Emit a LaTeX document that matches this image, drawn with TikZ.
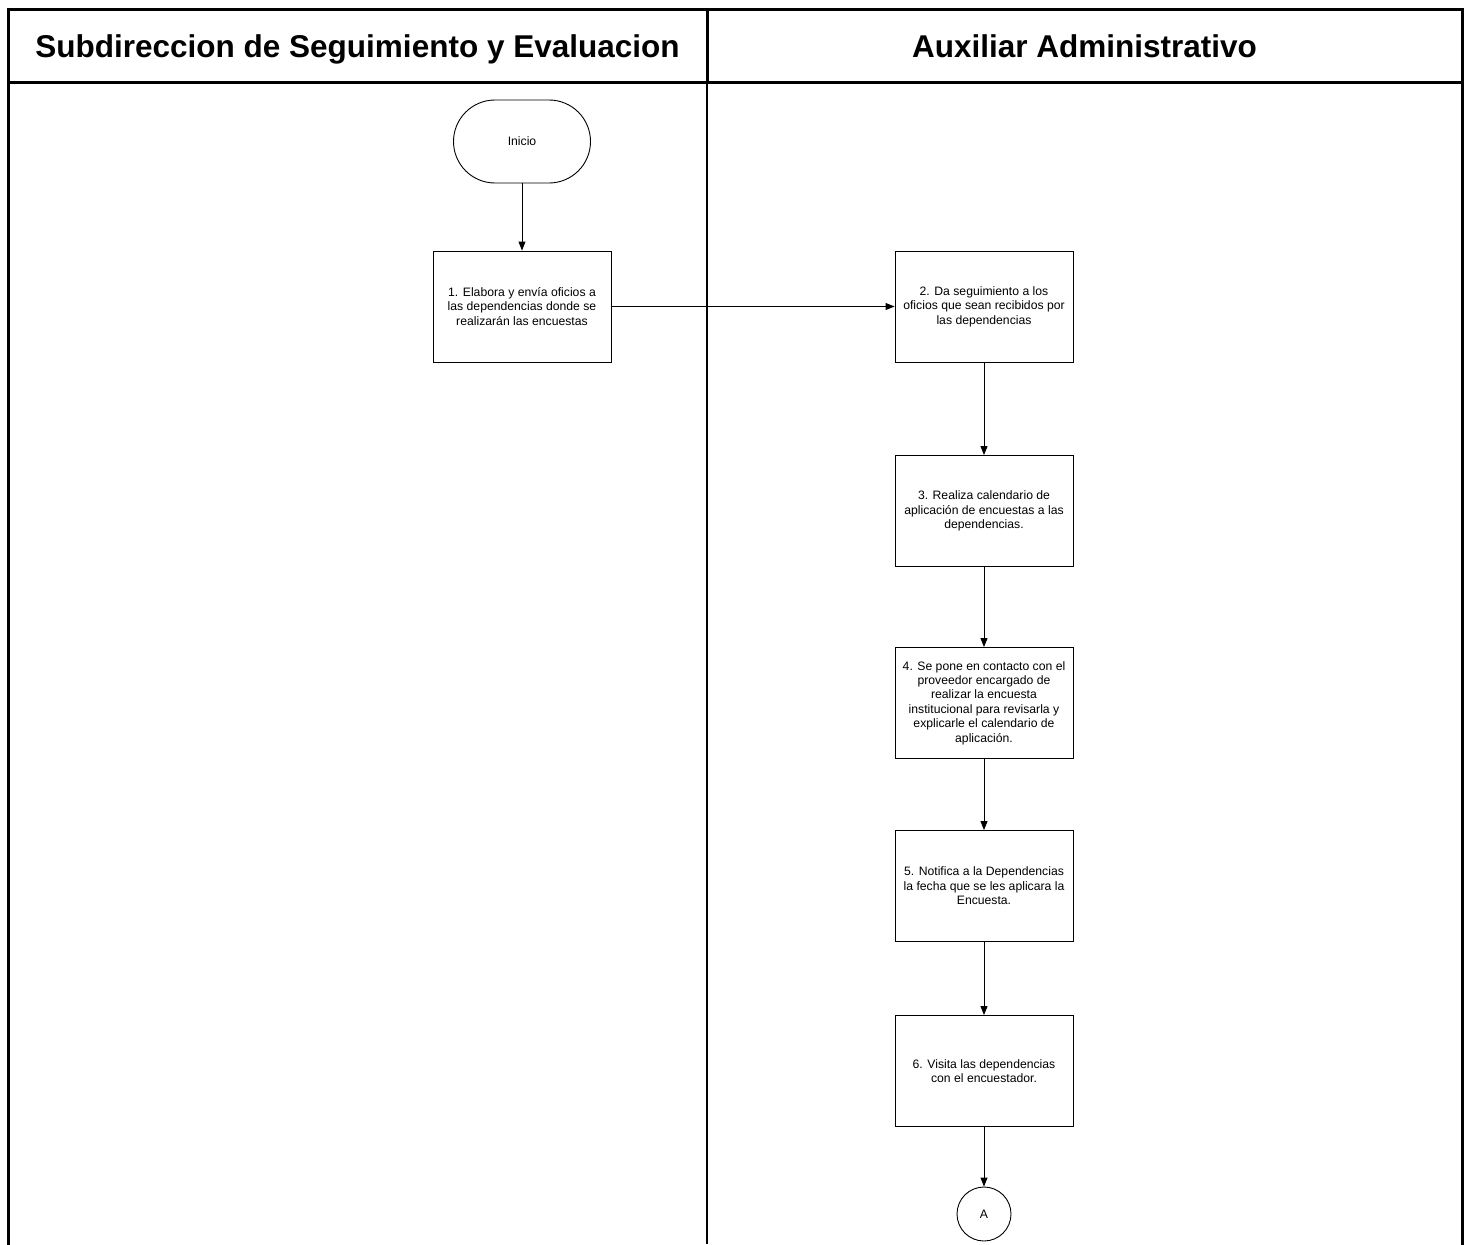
\documentclass[tikz,border=0pt]{standalone}
\usepackage{fontspec}
\setmainfont{Liberation Sans}
\usetikzlibrary{arrows.meta}
\begin{document}
\begin{tikzpicture}[x=1pt,y=-1pt,
  lane/.style={line width=3pt, line cap=rect},
  lanethin/.style={line width=2pt},
  header/.style={font=\fontsize{31.5}{36}\selectfont\bfseries, anchor=base},
  stepbox/.style={draw, line width=0.9pt, minimum width=178pt, minimum height=111pt,
    align=center, inner sep=2pt, font=\fontsize{12.2}{14.4}\selectfont},
  terminal/.style={draw, line width=0.9pt, rounded corners=41.5pt, minimum width=137pt,
    minimum height=83pt, font=\fontsize{12.2}{14.4}\selectfont},
  connector/.style={draw, circle, line width=0.9pt, minimum size=54pt, inner sep=0pt,
    font=\fontsize{12.2}{14.4}\selectfont},
  flow/.style={line width=0.9pt, -{Triangle[length=9pt,width=7pt]}}]

  \useasboundingbox (0,0) rectangle (1466,1244);

  % swimlane frame
  \draw[lane] (8,1244) -- (8,10) -- (1462,10) -- (1462,1244);
  \draw[lane] (8,83) -- (1462,83);
  \draw[lane] (707,10) -- (707,83);
  \draw[lanethin] (707,83) -- (707,1244);

  % lane titles
  \node[header] (h1) at (357.5,58) {Subdireccion de Seguimiento y Evaluacion};
  \node[header] (h2) at (1084.5,58) {Auxiliar Administrativo};

  % process
  \node[terminal] (inicio) at (522,141.5) {Inicio};
  \node[stepbox] (s1) at (522,306.5) {1. Elabora y envía oficios a\\las dependencias donde se\\realizarán las encuestas};
  \node[stepbox] (s2) at (984,306.5) {2. Da seguimiento a los\\oficios que sean recibidos por\\las dependencias};
  \node[stepbox] (s3) at (984,511) {3. Realiza calendario de\\aplicación de encuestas a las\\dependencias.};
  \node[stepbox] (s4) at (984,703) {4. Se pone en contacto con el\\proveedor encargado de\\realizar la encuesta\\institucional para revisarla y\\explicarle el calendario de\\aplicación.};
  \node[stepbox] (s5) at (984,886) {5. Notifica a la Dependencias\\la fecha que se les aplicara la\\Encuesta.};
  \node[stepbox] (s6) at (984,1071) {6. Visita las dependencias\\con el encuestador.};
  \node[connector] (a) at (984,1214) {A};

  \draw[flow] (inicio) -- (s1);
  \draw[flow] (s1) -- (s2);
  \draw[flow] (s2) -- (s3);
  \draw[flow] (s3) -- (s4);
  \draw[flow] (s4) -- (s5);
  \draw[flow] (s5) -- (s6);
  \draw[flow] (s6) -- (a);
\end{tikzpicture}
\end{document}
